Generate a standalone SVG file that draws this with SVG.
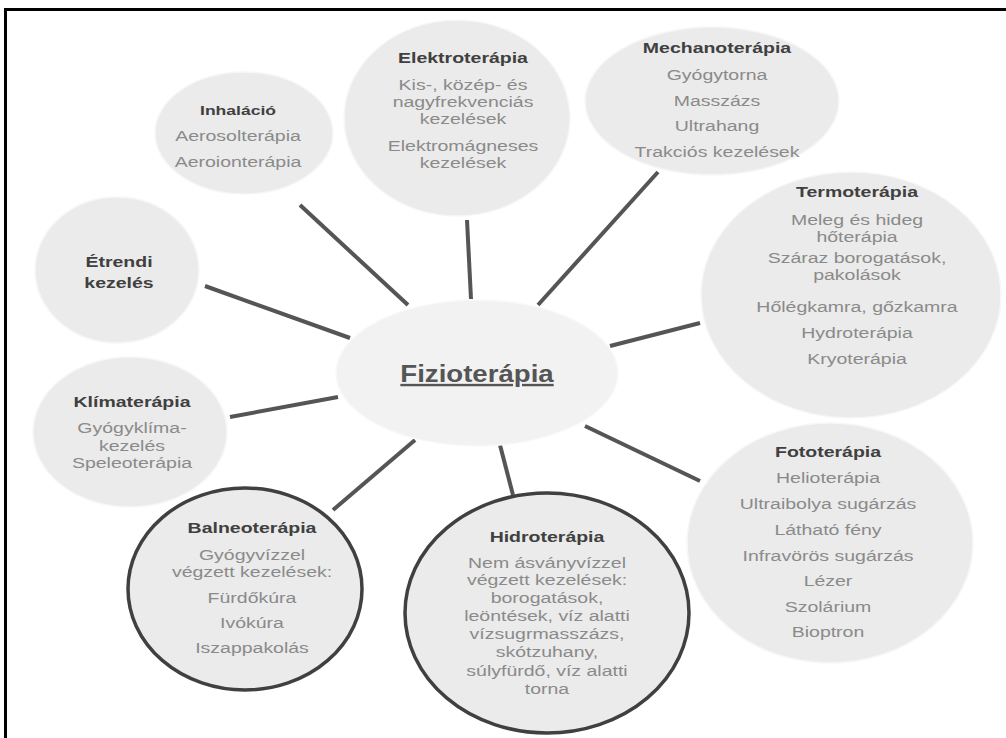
<svg xmlns="http://www.w3.org/2000/svg" width="1006" height="738" viewBox="0 0 1006 738">
<style>
.bg{fill:#ffffff}
.node{fill:#ebebeb;stroke:#f7f7f7;stroke-width:1.5}
.center{fill:#f2f2f2;stroke:#f9f9f9;stroke-width:1.5}
.strong{fill:#ebebeb;stroke:#404040;stroke-width:3.5}
.conn line{stroke:#555555;stroke-width:4;stroke-linecap:butt}
text{font-family:"Liberation Sans",Arial,sans-serif;text-anchor:middle}
.t{font-size:15px;font-weight:bold;fill:#404040}
.i{font-size:15px;fill:#8a8a8a}
.main{font-size:24px;font-weight:bold;fill:#555555;text-decoration:underline}
</style>
<rect class="bg" x="0" y="0" width="1006" height="738"/>
<path d="M5.5,740 V9.5 H1010" fill="none" stroke="#000" stroke-width="3"/>
<g id="connectors" class="conn">
<line x1="300" y1="205" x2="408" y2="305"/>
<line x1="467" y1="220" x2="471" y2="299"/>
<line x1="658" y1="172" x2="538" y2="305"/>
<line x1="610" y1="346" x2="700" y2="323"/>
<line x1="585" y1="426" x2="700" y2="481"/>
<line x1="500" y1="445" x2="513" y2="495"/>
<line x1="333" y1="510" x2="415" y2="440"/>
<line x1="230" y1="417" x2="338" y2="397"/>
<line x1="205" y1="286" x2="350" y2="338"/>
</g>
<g id="inhalacio">
<ellipse class="node" cx="244" cy="133" rx="89" ry="61"/>
<g transform="translate(238 0) scale(1.3 1)">
<text class="t" x="0" y="115" style="font-size:13.5px">Inhaláció</text>
<text class="i" x="0" y="141">Aerosolterápia</text>
<text class="i" x="0" y="167">Aeroionterápia</text>
</g>
</g>
<g id="elektroterapia">
<ellipse class="node" cx="457" cy="118" rx="113" ry="98"/>
<g transform="translate(463 0) scale(1.3 1)">
<text class="t" x="0" y="63">Elektroterápia</text>
<text class="i" x="0" y="90">Kis-, közép- és</text>
<text class="i" x="0" y="107">nagyfrekvenciás</text>
<text class="i" x="0" y="124">kezelések</text>
<text class="i" x="0" y="151">Elektromágneses</text>
<text class="i" x="0" y="168">kezelések</text>
</g>
</g>
<g id="mechanoterapia">
<ellipse class="node" cx="712" cy="101" rx="127" ry="74"/>
<g transform="translate(717 0) scale(1.3 1)">
<text class="t" x="0" y="53">Mechanoterápia</text>
<text class="i" x="0" y="80">Gyógytorna</text>
<text class="i" x="0" y="106">Masszázs</text>
<text class="i" x="0" y="131">Ultrahang</text>
<text class="i" x="0" y="157">Trakciós kezelések</text>
</g>
</g>
<g id="termoterapia">
<ellipse class="node" cx="851" cy="295" rx="150" ry="123"/>
<g transform="translate(857 0) scale(1.3 1)">
<text class="t" x="0" y="197">Termoterápia</text>
<text class="i" x="0" y="225">Meleg és hideg</text>
<text class="i" x="0" y="242">hőterápia</text>
<text class="i" x="0" y="263">Száraz borogatások,</text>
<text class="i" x="0" y="280">pakolások</text>
<text class="i" x="0" y="312">Hőlégkamra,  gőzkamra</text>
<text class="i" x="0" y="338">Hydroterápia</text>
<text class="i" x="0" y="364">Kryoterápia</text>
</g>
</g>
<g id="etrendi">
<ellipse class="node" cx="117" cy="270" rx="82" ry="73"/>
<g transform="translate(119 0) scale(1.3 1)">
<text class="t" x="0" y="267">Étrendi</text>
<text class="t" x="0" y="288">kezelés</text>
</g>
</g>
<g id="klimaterapia">
<ellipse class="node" cx="130" cy="432" rx="97" ry="75"/>
<g transform="translate(132 0) scale(1.3 1)">
<text class="t" x="0" y="407">Klímaterápia</text>
<text class="i" x="0" y="433">Gyógyklíma-</text>
<text class="i" x="0" y="451">kezelés</text>
<text class="i" x="0" y="468">Speleoterápia</text>
</g>
</g>
<g id="fizioterapia">
<ellipse class="center" cx="477" cy="373" rx="141" ry="73"/>
<g transform="translate(477 0) scale(1.15 1)">
<text class="main" x="0" y="382">Fizioterápia</text>
</g>
</g>
<g id="balneoterapia">
<ellipse class="strong" cx="245" cy="589" rx="117" ry="101"/>
<g transform="translate(252 0) scale(1.3 1)">
<text class="t" x="0" y="533">Balneoterápia</text>
<text class="i" x="0" y="560">Gyógyvízzel</text>
<text class="i" x="0" y="577">végzett  kezelések:</text>
<text class="i" x="0" y="603">Fürdőkúra</text>
<text class="i" x="0" y="628">Ivókúra</text>
<text class="i" x="0" y="653">Iszappakolás</text>
</g>
</g>
<g id="hidroterapia">
<ellipse class="strong" cx="547" cy="613" rx="142" ry="120"/>
<g transform="translate(547 0) scale(1.3 1)">
<text class="t" x="0" y="542">Hidroterápia</text>
<text class="i" x="0" y="568">Nem  ásványvízzel</text>
<text class="i" x="0" y="585">végzett  kezelések:</text>
<text class="i" x="0" y="603">borogatások,</text>
<text class="i" x="0" y="621">leöntések,  víz alatti</text>
<text class="i" x="0" y="639">vízsugrmasszázs,</text>
<text class="i" x="0" y="657">skótzuhany,</text>
<text class="i" x="0" y="676">súlyfürdő, víz alatti</text>
<text class="i" x="0" y="694">torna</text>
</g>
</g>
<g id="fototerapia">
<ellipse class="node" cx="830" cy="543" rx="143" ry="120"/>
<g transform="translate(828 0) scale(1.3 1)">
<text class="t" x="0" y="457">Fototerápia</text>
<text class="i" x="0" y="483">Helioterápia</text>
<text class="i" x="0" y="509">Ultraibolya  sugárzás</text>
<text class="i" x="0" y="535">Látható  fény</text>
<text class="i" x="0" y="561">Infravörös sugárzás</text>
<text class="i" x="0" y="586">Lézer</text>
<text class="i" x="0" y="612">Szolárium</text>
<text class="i" x="0" y="637">Bioptron</text>
</g>
</g>
</svg>
